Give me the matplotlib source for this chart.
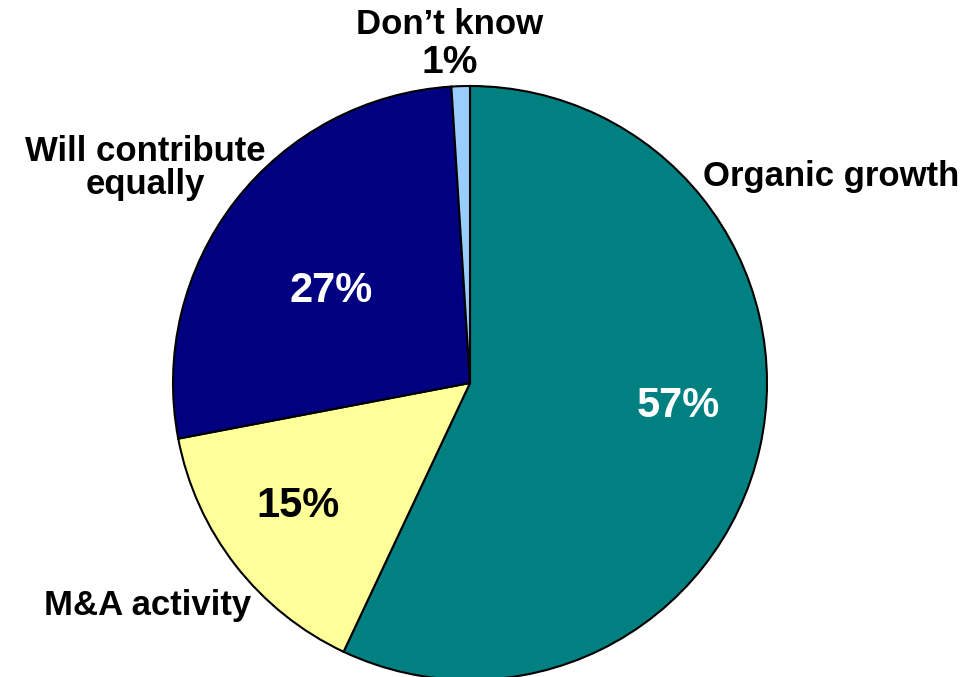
import matplotlib
matplotlib.use("Agg")
import matplotlib.pyplot as plt

categories = ["Organic growth", "M&A activity", "Will contribute\nequally", "Don\u2019t know"]
values = [57, 15, 27, 1]
colors = ["#008080", "#FFFF99", "#000080", "#99CCFF"]

W, H = 978, 677
fig = plt.figure(figsize=(W / 100, H / 100), dpi=100)
ax = fig.add_axes([0, 0, 1, 1])

cx, cy, r = 470, H - 383, 297
ax.pie(values, colors=colors, startangle=90, counterclock=False,
       center=(cx, cy), radius=r,
       wedgeprops=dict(edgecolor="black", linewidth=1.5))
ax.set_xlim(0, W)
ax.set_ylim(0, H)
ax.set_aspect("equal")
ax.axis("off")

font = dict(family="Liberation Sans", fontweight="bold")

# category labels outside the pie
ax.text(831, H - 177, categories[0], fontsize=25, ha="center", va="center", **font)
ax.text(148, H - 605, categories[1], fontsize=25, ha="center", va="center", **font)
ax.text(145, H - 168, categories[2], fontsize=25, ha="center", va="center",
        linespacing=1.02, **font)
ax.text(450, H - 25, categories[3], fontsize=25, ha="center", va="center", **font)
ax.text(450, H - 63, f"{values[3]}%", fontsize=28, ha="center", va="center", **font)

# percentages inside the slices
ax.text(678, H - 406, f"{values[0]}%", fontsize=30, color="white",
        ha="center", va="center", **font)
ax.text(298, H - 506, f"{values[1]}%", fontsize=30, color="black",
        ha="center", va="center", **font)
ax.text(331, H - 291, f"{values[2]}%", fontsize=30, color="white",
        ha="center", va="center", **font)

fig.savefig("out.png", dpi=100, facecolor="white")
